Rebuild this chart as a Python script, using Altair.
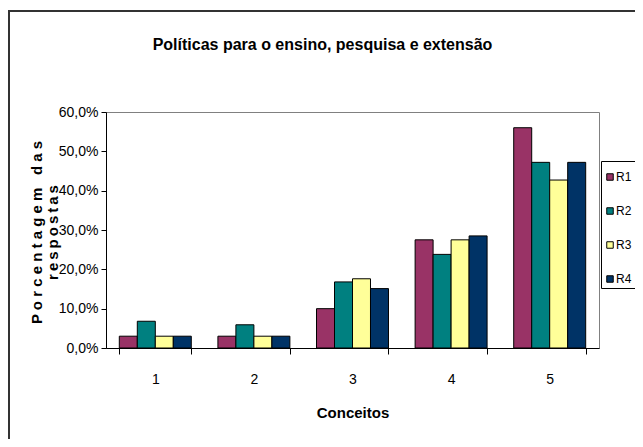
import altair as alt
import pandas as pd

categories = ["1", "2", "3", "4", "5"]
series_names = ["R1", "R2", "R3", "R4"]
r1 = [3.0, 3.0, 10.0, 27.5, 56.0]
r2 = [6.8, 5.9, 16.8, 23.8, 47.2]
r3 = [3.0, 3.0, 17.6, 27.5, 42.7]
r4 = [3.0, 3.0, 15.1, 28.5, 47.2]
colors = ["#993366", "#008080", "#FFFF99", "#003366"]
y_ticks = [0, 10, 20, 30, 40, 50, 60]
chart_title = "Políticas para o ensino, pesquisa e extensão"
y_title_1 = "P o r c e n t a g e m\u00a0\u00a0\u00a0d a s"
y_title_2 = "r\u2009e\u2009s\u2009p\u2009o\u2009s\u2009t\u2009a\u2009s"

rows = []
for name, vals in zip(series_names, [r1, r2, r3, r4]):
    for c, v in zip(categories, vals):
        rows.append({"Conceito": c, "Serie": name, "Valor": v})
df = pd.DataFrame(rows)

FONT = "Liberation Sans Narrow, Liberation Sans, Arial"
W, H = 493, 236

bars = alt.Chart(df).mark_bar(stroke="black", strokeWidth=1).encode(
    x=alt.X("Conceito:N", sort=categories,
            scale=alt.Scale(paddingInner=0.27, paddingOuter=0.135),
            axis=alt.Axis(title="Conceitos", labelAngle=0, tickBand="extent",
                          tickSize=6, labelPadding=18, labelFontSize=14,
                          labelFont=FONT, titleFont=FONT, titleFontSize=15,
                          titleFontWeight="bold", titleY=57, titleBaseline="top",
                          domainColor="black", tickColor="black", labelColor="black")),
    xOffset=alt.XOffset("Serie:N", sort=series_names),
    y=alt.Y("Valor:Q", scale=alt.Scale(domain=[0, 60], nice=False),
            axis=alt.Axis(values=y_ticks, grid=False, tickSize=5, labelPadding=3,
                          labelFontSize=14, labelFont=FONT,
                          labelExpr="replace(format(datum.value, '.1f'), '.', ',') + '%'",
                          title=[y_title_1, y_title_2],
                          titleFont=FONT, titleFontSize=15, titleFontWeight="bold",
                          titleAngle=270, titleX=-62, titleY=120, titleAlign="center",
                          titleBaseline="bottom", titleLineHeight=16,
                          domainColor="black", tickColor="black", labelColor="black")),
    color=alt.Color("Serie:N", sort=series_names,
                    scale=alt.Scale(domain=series_names, range=colors),
                    legend=alt.Legend(title="\u00a0", titleFontSize=7, titlePadding=0,
                                      orient="none", legendX=495, legendY=49,
                                      strokeColor="black", padding=3, rowPadding=22,
                                      symbolType="square", symbolSize=42,
                                      symbolStrokeColor="black", symbolStrokeWidth=1,
                                      labelFont=FONT, labelFontSize=12, labelColor="black",
                                      symbolOffset=0, labelOffset=0)),
)

one = pd.DataFrame({"t": [chart_title]})
title_mark = alt.Chart(one).mark_text(
    font=FONT, fontSize=16, fontWeight="bold", color="black",
    align="center", baseline="middle", clip=False
).encode(text="t:N", x=alt.value(W / 2 - 30), y=alt.value(-67))

left_line = alt.Chart(one).mark_rule(color="#333333", strokeWidth=2, clip=False).encode(
    x=alt.value(-97), y=alt.value(-101), y2=alt.value(H + 120))
top_line = alt.Chart(one).mark_rule(color="#333333", strokeWidth=2, clip=False).encode(
    x=alt.value(-98), x2=alt.value(W + 60), y=alt.value(-101))

chart = alt.layer(bars, title_mark, left_line, top_line).properties(
    width=W, height=H,
    autosize=alt.AutoSizeParams(type="none"),
    padding={"left": 98, "top": 104, "right": 36, "bottom": 91},
).configure_view(stroke="#808080", strokeWidth=1)

chart.save("out.html", embed_options={"renderer": "svg", "actions": False})
